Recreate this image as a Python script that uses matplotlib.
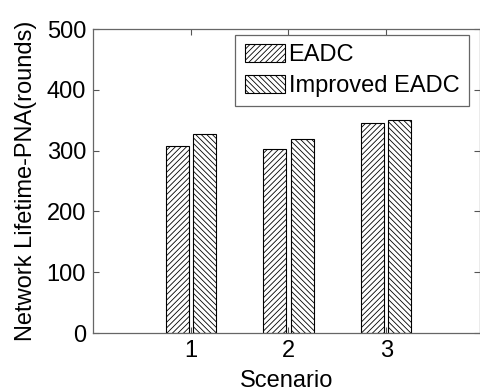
import matplotlib
matplotlib.use('Agg')
from matplotlib import pyplot as plt
import numpy as np

scenarios = [1, 2, 3]
eadc = [307, 303, 346]
improved_eadc = [327, 319, 350]
yticks = [0, 100, 200, 300, 400, 500]

plt.rcParams['font.family'] = 'Liberation Sans'
plt.rcParams['hatch.linewidth'] = 0.6

fig = plt.figure(figsize=(4.81, 3.92), dpi=100)
ax = fig.add_axes([0.1933, 0.1505, 0.8046, 0.7755])

x = np.array(scenarios)
w = 0.235
ax.bar(x - 0.14, eadc, w, color='white', edgecolor='black', hatch='//////',
       linewidth=0.8, label='EADC')
ax.bar(x + 0.14, improved_eadc, w, color='white', edgecolor='black', hatch='\\\\\\\\\\\\',
       linewidth=0.8, label='Improved EADC')

ax.set_xlim(0, 3.96)
ax.set_ylim(0, 500)
ax.set_xticks(scenarios)
ax.set_yticks(yticks)
ax.tick_params(direction='in', length=4, width=0.8, color='#555555',
               labelsize=17, top=True, right=True, pad=5)
for s in ax.spines.values():
    s.set_color('#666666')
    s.set_linewidth(0.9)

ax.set_xlabel('Scenario', fontsize=17, labelpad=6)
ax.set_ylabel('Network Lifetime-PNA(rounds)', fontsize=17, labelpad=7)

leg = ax.legend(loc='upper right', fontsize=17, fancybox=False, framealpha=1,
                edgecolor='#666666', borderpad=0.4, labelspacing=0.35,
                handlelength=1.7, handleheight=0.8, handletextpad=0.15,
                borderaxespad=0.4, bbox_to_anchor=(0.995, 1.012))
leg.get_frame().set_linewidth(0.9)

plt.savefig('out.png', dpi=100)
